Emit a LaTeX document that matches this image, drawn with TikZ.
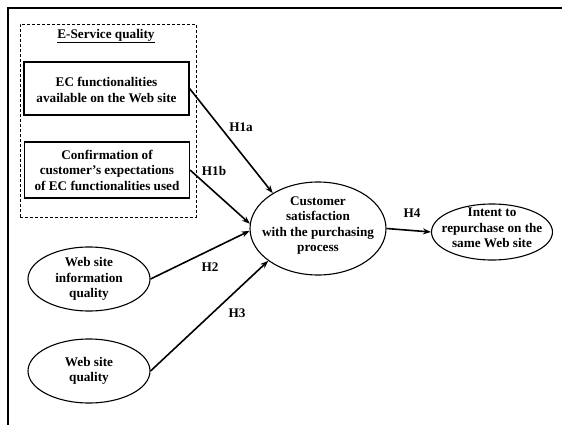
\documentclass[tikz,border=0pt]{standalone}
\usepackage{fontspec}
\setmainfont{Liberation Serif}
\usetikzlibrary{shapes.geometric,arrows.meta}
\begin{document}
\begin{tikzpicture}[x=1pt,y=-1pt,
  txt/.style={font=\bfseries\fontsize{13.2}{15.5}\selectfont, align=center, inner sep=0pt},
  rbox/.style={draw, line width=1.1pt, minimum width=165pt, inner sep=0pt},
  ell/.style={draw, ellipse, line width=1.1pt, inner sep=0pt},
  grp/.style={draw, dashed, dash pattern=on 3pt off 2pt, line width=0.7pt, minimum width=176pt, minimum height=193pt, inner sep=0pt},
  hyp/.style={draw, line width=1.6pt, -{Stealth[length=8pt,width=6pt]}},
  lab/.style={txt},
  frame/.style={line width=1.8pt}]
\useasboundingbox (0,0) rectangle (562,425);
\draw[frame] (8,425) -- (8,8) -- (562,8);
\node[grp] (esq) at (108,120.5) {};
\node[txt] (esqt) at (106,36) {\underline{E-Service quality}};
\node[rbox, minimum height=53pt] (ecf) at (106.5,88.5) {};
\node[txt] (ecft) at ([yshift=-1.5pt]ecf.center) {EC functionalities\\available on the Web site};
\node[rbox, minimum height=56pt] (conf) at (107,170) {};
\node[txt] (conft) at (conf.center) {Confirmation of\\customer’s expectations\\of EC functionalities used};
\node[ell, minimum width=122pt, minimum height=64pt] (wiq) at (89,279) {};
\node[txt] (wiqt) at (wiq.center) {Web site\\information\\quality};
\node[ell, minimum width=122pt, minimum height=64pt] (wq) at (89,371) {};
\node[txt] (wqt) at (wq.center) {Web site\\quality};
\node[ell, minimum width=136pt, minimum height=93pt] (cs) at (318,228.5) {};
\node[txt] (cst) at ([yshift=3pt]cs.center) {Customer\\satisfaction\\with the purchasing\\process};
\node[ell, minimum width=121pt, minimum height=56pt] (int) at (492,232) {};
\node[txt] (intt) at ([yshift=4pt]int.center) {Intent to\\repurchase on the\\same Web site};
\draw[hyp] (ecf.east) -- (cs.142);
\draw[hyp] (conf.east) -- (cs.176);
\draw[hyp] (wiq.east) -- (cs.182);
\draw[hyp] (wq.east) -- (cs.213);
\draw[hyp] (cs.east) -- (int.west);
\node[lab] (h1a) at (241,127) {H1a};
\node[lab] (h1b) at (214,171) {H1b};
\node[lab] (h2) at (210,267) {H2};
\node[lab] (h3) at (237,313) {H3};
\node[lab] (h4) at (412,213) {H4};
\end{tikzpicture}
\end{document}
